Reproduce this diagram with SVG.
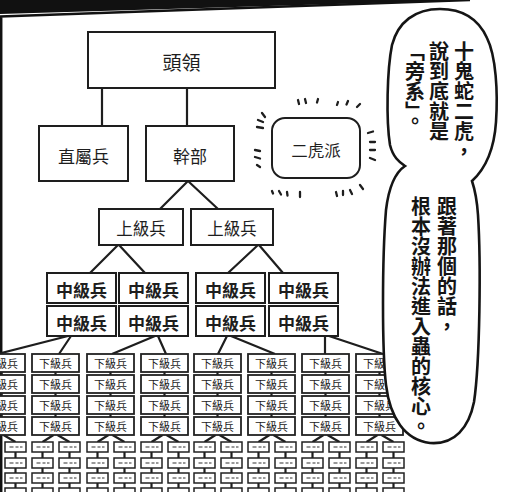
<svg xmlns="http://www.w3.org/2000/svg" xmlns:xlink="http://www.w3.org/1999/xlink" width="509" height="492" viewBox="0 0 509 492">
<style>
.b{fill:#fff;stroke:#1e1e1e;stroke-width:2}
.s{fill:#fff;stroke:#222;stroke-width:1.8}
.t{font-family:"Noto Sans CJK TC","Noto Sans CJK JP",sans-serif;fill:#1e1e1e;text-anchor:middle;dominant-baseline:central}
.m{font-size:17px;font-weight:700}
.k{font-family:"Noto Sans CJK TC","Noto Sans CJK JP",sans-serif;fill:#222;text-anchor:middle;dominant-baseline:central;font-size:11px}
.v{font-family:"Noto Sans CJK TC","Noto Sans CJK JP",sans-serif;fill:#151515;font-size:20px;font-weight:700;writing-mode:vertical-rl}
.c{fill:none;stroke:#1e1e1e;stroke-width:2.2}
.r{fill:none;stroke:#1e1e1e;stroke-width:2.3;stroke-linecap:round}
</style>
<defs>
<g id="tb"><rect x="0" y="0" width="21" height="10" fill="#fff" stroke="#222" stroke-width="1.5"/><path d="M4.5 5h4M10.5 5h3M15 5h2.5" stroke="#777" stroke-width="1.6"/></g>
</defs>
<rect x="0" y="0" width="509" height="492" fill="#fff"/>
<g id="panel-border">
<polygon points="0,0 470,0 0,14" fill="#111"/>
<path d="M0 16.5L470 0M1.2 16V492" stroke="#111" stroke-width="2.5" fill="none"/>
</g>
<g id="connectors">
<path class="c" d="M102 88V126M187 88V126M188 181L160 209M188 181L218 209M118 245L90 273M119 245L145 273M258 245L228 273M259 245L283 273"/>
<path class="c" d="M68 336L-2 354M71 336L59 354M155 336L112 354M158 336L166 354M227 336L218 354M231 336L275 354M325 336V354M329 336L383 354"/>
<path class="c" stroke-width="2" d="M1.5 372v3m0 18v3m0 18v3M55.5 372v3m0 18v3m0 18v3M110.5 372v3m0 18v3m0 18v3M164.5 372v3m0 18v3m0 18v3M217.5 372v3m0 18v3m0 18v3M271.5 372v3m0 18v3m0 18v3M325.5 372v3m0 18v3m0 18v3M379.5 372v3m0 18v3m0 18v3"/>
<path class="c" stroke-width="1.8" d="M-0.5 435L-11.5 442M3.5 435L15.5 442M53.5 435L42.5 442M57.5 435L69.5 442M108.5 435L97.5 442M112.5 435L124.5 442M162.5 435L151.5 442M166.5 435L178.5 442M215.5 435L204.5 442M219.5 435L231.5 442M269.5 435L258.5 442M273.5 435L285.5 442M323.5 435L312.5 442M327.5 435L339.5 442M377.5 435L366.5 442M381.5 435L393.5 442"/>
<path class="c" stroke-width="1.8" d="M-11.5 452v6m0 9v6m0 9v6M15.5 452v6m0 9v6m0 9v6M42.5 452v6m0 9v6m0 9v6M69.5 452v6m0 9v6m0 9v6M97.5 452v6m0 9v6m0 9v6M124.5 452v6m0 9v6m0 9v6M151.5 452v6m0 9v6m0 9v6M178.5 452v6m0 9v6m0 9v6M204.5 452v6m0 9v6m0 9v6M231.5 452v6m0 9v6m0 9v6M258.5 452v6m0 9v6m0 9v6M285.5 452v6m0 9v6m0 9v6M312.5 452v6m0 9v6m0 9v6M339.5 452v6m0 9v6m0 9v6M366.5 452v6m0 9v6m0 9v6M393.5 452v6m0 9v6m0 9v6"/>
</g>
<g id="toryo"><rect class="b" x="88" y="32" width="187" height="56"/><text class="t" x="181.5" y="61.5" font-size="19">頭領</text></g>
<g id="chokuzoku"><rect class="b" x="39" y="126" width="89" height="55"/><text class="t" x="83.5" y="155" font-size="17">直屬兵</text></g>
<g id="kanbu"><rect class="b" x="146" y="126" width="88" height="55"/><text class="t" x="190" y="155" font-size="17">幹部</text></g>
<g id="jokyu-1"><rect class="b" x="99" y="209" width="84" height="36"/><text class="t" x="141" y="227.5" font-size="16.5">上級兵</text></g>
<g id="jokyu-2"><rect class="b" x="191" y="209" width="82" height="36"/><text class="t" x="232" y="227.5" font-size="16.5">上級兵</text></g>
<g id="chukyu-1"><rect class="b" x="47" y="273" width="69" height="30"/><text class="t m" x="81.5" y="289">中級兵</text></g>
<g id="chukyu-2"><rect class="b" x="119" y="273" width="69" height="30"/><text class="t m" x="153.5" y="289">中級兵</text></g>
<g id="chukyu-3"><rect class="b" x="196" y="273" width="69" height="30"/><text class="t m" x="230.5" y="289">中級兵</text></g>
<g id="chukyu-4"><rect class="b" x="269" y="273" width="69" height="30"/><text class="t m" x="303.5" y="289">中級兵</text></g>
<g id="chukyu-5"><rect class="b" x="47" y="306" width="69" height="30"/><text class="t m" x="81.5" y="322">中級兵</text></g>
<g id="chukyu-6"><rect class="b" x="119" y="306" width="69" height="30"/><text class="t m" x="153.5" y="322">中級兵</text></g>
<g id="chukyu-7"><rect class="b" x="196" y="306" width="69" height="30"/><text class="t m" x="230.5" y="322">中級兵</text></g>
<g id="chukyu-8"><rect class="b" x="269" y="306" width="69" height="30"/><text class="t m" x="303.5" y="322">中級兵</text></g>
<g id="kakyu-0-0"><rect class="s" x="-22" y="354" width="47" height="18"/><text class="k" x="1.5" y="363">下級兵</text></g>
<g id="kakyu-0-1"><rect class="s" x="-22" y="375" width="47" height="18"/><text class="k" x="1.5" y="384">下級兵</text></g>
<g id="kakyu-0-2"><rect class="s" x="-22" y="396" width="47" height="18"/><text class="k" x="1.5" y="405">下級兵</text></g>
<g id="kakyu-0-3"><rect class="s" x="-22" y="417" width="47" height="18"/><text class="k" x="1.5" y="426">下級兵</text></g>
<g id="kakyu-1-0"><rect class="s" x="32" y="354" width="47" height="18"/><text class="k" x="55.5" y="363">下級兵</text></g>
<g id="kakyu-1-1"><rect class="s" x="32" y="375" width="47" height="18"/><text class="k" x="55.5" y="384">下級兵</text></g>
<g id="kakyu-1-2"><rect class="s" x="32" y="396" width="47" height="18"/><text class="k" x="55.5" y="405">下級兵</text></g>
<g id="kakyu-1-3"><rect class="s" x="32" y="417" width="47" height="18"/><text class="k" x="55.5" y="426">下級兵</text></g>
<g id="kakyu-2-0"><rect class="s" x="87" y="354" width="47" height="18"/><text class="k" x="110.5" y="363">下級兵</text></g>
<g id="kakyu-2-1"><rect class="s" x="87" y="375" width="47" height="18"/><text class="k" x="110.5" y="384">下級兵</text></g>
<g id="kakyu-2-2"><rect class="s" x="87" y="396" width="47" height="18"/><text class="k" x="110.5" y="405">下級兵</text></g>
<g id="kakyu-2-3"><rect class="s" x="87" y="417" width="47" height="18"/><text class="k" x="110.5" y="426">下級兵</text></g>
<g id="kakyu-3-0"><rect class="s" x="141" y="354" width="47" height="18"/><text class="k" x="164.5" y="363">下級兵</text></g>
<g id="kakyu-3-1"><rect class="s" x="141" y="375" width="47" height="18"/><text class="k" x="164.5" y="384">下級兵</text></g>
<g id="kakyu-3-2"><rect class="s" x="141" y="396" width="47" height="18"/><text class="k" x="164.5" y="405">下級兵</text></g>
<g id="kakyu-3-3"><rect class="s" x="141" y="417" width="47" height="18"/><text class="k" x="164.5" y="426">下級兵</text></g>
<g id="kakyu-4-0"><rect class="s" x="194" y="354" width="47" height="18"/><text class="k" x="217.5" y="363">下級兵</text></g>
<g id="kakyu-4-1"><rect class="s" x="194" y="375" width="47" height="18"/><text class="k" x="217.5" y="384">下級兵</text></g>
<g id="kakyu-4-2"><rect class="s" x="194" y="396" width="47" height="18"/><text class="k" x="217.5" y="405">下級兵</text></g>
<g id="kakyu-4-3"><rect class="s" x="194" y="417" width="47" height="18"/><text class="k" x="217.5" y="426">下級兵</text></g>
<g id="kakyu-5-0"><rect class="s" x="248" y="354" width="47" height="18"/><text class="k" x="271.5" y="363">下級兵</text></g>
<g id="kakyu-5-1"><rect class="s" x="248" y="375" width="47" height="18"/><text class="k" x="271.5" y="384">下級兵</text></g>
<g id="kakyu-5-2"><rect class="s" x="248" y="396" width="47" height="18"/><text class="k" x="271.5" y="405">下級兵</text></g>
<g id="kakyu-5-3"><rect class="s" x="248" y="417" width="47" height="18"/><text class="k" x="271.5" y="426">下級兵</text></g>
<g id="kakyu-6-0"><rect class="s" x="302" y="354" width="47" height="18"/><text class="k" x="325.5" y="363">下級兵</text></g>
<g id="kakyu-6-1"><rect class="s" x="302" y="375" width="47" height="18"/><text class="k" x="325.5" y="384">下級兵</text></g>
<g id="kakyu-6-2"><rect class="s" x="302" y="396" width="47" height="18"/><text class="k" x="325.5" y="405">下級兵</text></g>
<g id="kakyu-6-3"><rect class="s" x="302" y="417" width="47" height="18"/><text class="k" x="325.5" y="426">下級兵</text></g>
<g id="kakyu-7-0"><rect class="s" x="356" y="354" width="47" height="18"/><text class="k" x="379.5" y="363">下級兵</text></g>
<g id="kakyu-7-1"><rect class="s" x="356" y="375" width="47" height="18"/><text class="k" x="379.5" y="384">下級兵</text></g>
<g id="kakyu-7-2"><rect class="s" x="356" y="396" width="47" height="18"/><text class="k" x="379.5" y="405">下級兵</text></g>
<g id="kakyu-7-3"><rect class="s" x="356" y="417" width="47" height="18"/><text class="k" x="379.5" y="426">下級兵</text></g>
<g id="tiny-boxes">
<use id="t00" href="#tb" x="-22" y="442"/><use id="t01" href="#tb" x="-22" y="458"/><use id="t02" href="#tb" x="-22" y="473"/><use id="t03" href="#tb" x="-22" y="488"/>
<use id="t10" href="#tb" x="5" y="442"/><use id="t11" href="#tb" x="5" y="458"/><use id="t12" href="#tb" x="5" y="473"/><use id="t13" href="#tb" x="5" y="488"/>
<use id="t20" href="#tb" x="32" y="442"/><use id="t21" href="#tb" x="32" y="458"/><use id="t22" href="#tb" x="32" y="473"/><use id="t23" href="#tb" x="32" y="488"/>
<use id="t30" href="#tb" x="59" y="442"/><use id="t31" href="#tb" x="59" y="458"/><use id="t32" href="#tb" x="59" y="473"/><use id="t33" href="#tb" x="59" y="488"/>
<use id="t40" href="#tb" x="87" y="442"/><use id="t41" href="#tb" x="87" y="458"/><use id="t42" href="#tb" x="87" y="473"/><use id="t43" href="#tb" x="87" y="488"/>
<use id="t50" href="#tb" x="114" y="442"/><use id="t51" href="#tb" x="114" y="458"/><use id="t52" href="#tb" x="114" y="473"/><use id="t53" href="#tb" x="114" y="488"/>
<use id="t60" href="#tb" x="141" y="442"/><use id="t61" href="#tb" x="141" y="458"/><use id="t62" href="#tb" x="141" y="473"/><use id="t63" href="#tb" x="141" y="488"/>
<use id="t70" href="#tb" x="168" y="442"/><use id="t71" href="#tb" x="168" y="458"/><use id="t72" href="#tb" x="168" y="473"/><use id="t73" href="#tb" x="168" y="488"/>
<use id="t80" href="#tb" x="194" y="442"/><use id="t81" href="#tb" x="194" y="458"/><use id="t82" href="#tb" x="194" y="473"/><use id="t83" href="#tb" x="194" y="488"/>
<use id="t90" href="#tb" x="221" y="442"/><use id="t91" href="#tb" x="221" y="458"/><use id="t92" href="#tb" x="221" y="473"/><use id="t93" href="#tb" x="221" y="488"/>
<use id="ta0" href="#tb" x="248" y="442"/><use id="ta1" href="#tb" x="248" y="458"/><use id="ta2" href="#tb" x="248" y="473"/><use id="ta3" href="#tb" x="248" y="488"/>
<use id="tb0" href="#tb" x="275" y="442"/><use id="tb1" href="#tb" x="275" y="458"/><use id="tb2" href="#tb" x="275" y="473"/><use id="tb3" href="#tb" x="275" y="488"/>
<use id="tc0" href="#tb" x="302" y="442"/><use id="tc1" href="#tb" x="302" y="458"/><use id="tc2" href="#tb" x="302" y="473"/><use id="tc3" href="#tb" x="302" y="488"/>
<use id="td0" href="#tb" x="329" y="442"/><use id="td1" href="#tb" x="329" y="458"/><use id="td2" href="#tb" x="329" y="473"/><use id="td3" href="#tb" x="329" y="488"/>
<use id="te0" href="#tb" x="356" y="442"/><use id="te1" href="#tb" x="356" y="458"/><use id="te2" href="#tb" x="356" y="473"/><use id="te3" href="#tb" x="356" y="488"/>
<use id="tf0" href="#tb" x="383" y="442"/><use id="tf1" href="#tb" x="383" y="458"/><use id="tf2" href="#tb" x="383" y="473"/><use id="tf3" href="#tb" x="383" y="488"/>
</g>
<g id="nitoraha">
<rect x="272" y="118" width="88" height="60" rx="13" fill="#fff" stroke="#1e1e1e" stroke-width="2"/>
<text class="t" x="316" y="150" font-size="16.5">二虎派</text>
<path class="r" d="M298 100l1 4M305 99l1 4M318 99l-1 3.5M338 102l-1 3M348 101l-1.5 3.5M360 104l-3 3M262 113l3 4M258 120l5 2M257 127l6 1M255 150l5 1M255 157l5 1.5M257 165l3 2M368 133l5-1.5M370 142h5M370 150h5M370 158l5 2M272 191l1 2.5M279 191l2 3.5M287 192l0.5 3.5M300 192v5M336 192l1 4M343 191v4M350 190l2 4M360 185l3 4"/>
</g>
<g id="speech-bubble">
<path d="M440 9C415 9 398 22 392 45C387 70 386 120 390 145C393 157 399 162 405 166C396 172 389 185 386 210C382 260 382 350 386 385C390 418 405 440 430 443C455 445 469 427 474 402C480 362 481 262 478 215C477 200 475 190 472 181C484 170 494 152 496 122C498 92 496 56 487 38C478 18 462 9 440 9Z" fill="#fff" stroke="#151515" stroke-width="2.6"/>
<text class="v" x="464" y="41">十鬼蛇二虎，</text>
<text class="v" x="439" y="41">說到底就是</text>
<text class="v" x="415" y="41">「旁系」。</text>
<text class="v" x="447" y="196">跟著那個的話，</text>
<text class="v" x="421" y="196">根本沒辦法進入蟲的核心。</text>
</g>
</svg>
